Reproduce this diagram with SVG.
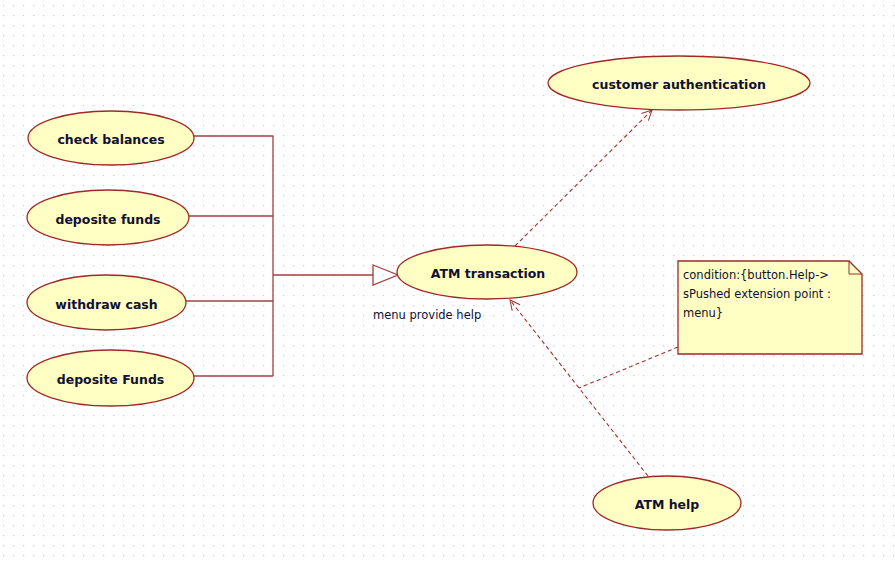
<svg xmlns="http://www.w3.org/2000/svg" width="895" height="561" viewBox="0 0 895 561">
<defs>
<pattern id="grid" x="0" y="0" width="10" height="10" patternUnits="userSpaceOnUse">
<rect x="3" y="5" width="1.2" height="1.2" fill="#c8c8c8"/>
</pattern>
<marker id="open" viewBox="0 0 12 12" refX="11" refY="6" markerWidth="12" markerHeight="12" markerUnits="userSpaceOnUse" orient="auto">
<path d="M1,1 L11,6 L1,11" fill="none" stroke="#993333" stroke-width="1"/>
</marker>
</defs>
<style>
.uc{fill:#ffffc4;stroke:#a02828;stroke-width:1.3}
.lbl{font-family:"DejaVu Sans",Verdana,sans-serif;font-weight:bold;font-size:12.5px;fill:#101030;text-anchor:middle}
.txt{font-family:"DejaVu Sans",Verdana,sans-serif;font-size:11.5px;fill:#101030}
.gen{fill:none;stroke:#a04040;stroke-width:1.3}
.dep{fill:none;stroke:#a03030;stroke-width:1.1;stroke-dasharray:4,3}
</style>
<rect width="895" height="561" fill="#ffffff"/>
<rect width="895" height="561" fill="url(#grid)"/>
<g id="connectors">
<polyline class="gen" points="194,136 273,136"/>
<polyline class="gen" points="189,216 273,216"/>
<polyline class="gen" points="186,301 273,301"/>
<polyline class="gen" points="194,376 273,376"/>
<polyline class="gen" points="273,136 273,376"/>
<polyline class="gen" points="273,275 373,275"/>
<path class="gen" d="M373,265 L398,275 L373,285 Z" fill="#ffffff"/>
<line class="dep" x1="515" y1="246" x2="652" y2="110" marker-end="url(#open)"/>
<line class="dep" x1="648" y1="476" x2="510" y2="300" marker-end="url(#open)"/>
<line class="dep" x1="678" y1="347" x2="579" y2="388"/>
</g>
<g id="check-balances"><ellipse class="uc" cx="111" cy="138" rx="83" ry="27"/><text class="lbl" x="111" y="144">check balances</text></g>
<g id="deposite-funds"><ellipse class="uc" cx="108" cy="217.5" rx="81" ry="27.5"/><text class="lbl" x="108" y="224">deposite funds</text></g>
<g id="withdraw-cash"><ellipse class="uc" cx="106.5" cy="302.5" rx="79.5" ry="27.5"/><text class="lbl" x="106.5" y="309">withdraw cash</text></g>
<g id="deposite-Funds"><ellipse class="uc" cx="110.5" cy="378" rx="83.5" ry="28"/><text class="lbl" x="110.5" y="384">deposite Funds</text></g>
<g id="atm-transaction"><ellipse class="uc" cx="487" cy="272" rx="90" ry="27"/><text class="lbl" x="488" y="278">ATM transaction</text><text class="txt" x="373" y="319">menu provide help</text></g>
<g id="customer-authentication"><ellipse class="uc" cx="679" cy="83" rx="131" ry="27"/><text class="lbl" x="679" y="89">customer authentication</text></g>
<g id="atm-help"><ellipse class="uc" cx="667" cy="503" rx="74" ry="27"/><text class="lbl" x="667" y="509">ATM help</text></g>
<g id="note">
<path d="M678,261 L849,261 L862,274 L862,354 L678,354 Z" fill="#ffffc4" stroke="#a02828" stroke-width="1.3"/>
<path d="M849,261 L849,274 L862,274" fill="none" stroke="#a02828" stroke-width="1"/>
<text class="txt" x="683" y="279">condition:{button.Help-&gt;</text>
<text class="txt" x="683" y="298">sPushed extension point :</text>
<text class="txt" x="683" y="317">menu}</text>
</g>
</svg>
